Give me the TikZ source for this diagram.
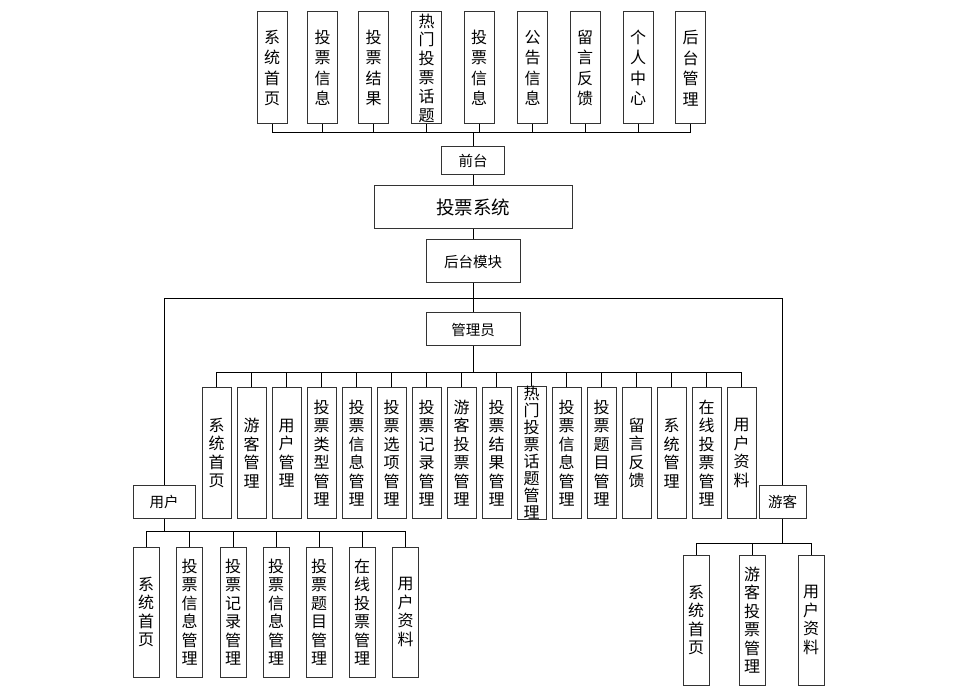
\documentclass[tikz,border=0pt]{standalone}
\usepackage{fontspec}
\setmainfont{Noto Sans CJK SC}

\begin{document}
\begin{tikzpicture}[x=1pt,y=-1pt,
    box/.style={draw=black!80,line width=1pt,inner sep=0pt,align=center},
    vtop/.style={box,minimum width=30pt,minimum height=112pt,font={\fontsize{16}{20.5}\selectfont}},
    vadm/.style={box,minimum width=29pt,minimum height=130pt,font={\fontsize{16}{18.5}\selectfont}},
    vsub/.style={box,minimum width=26pt,minimum height=130pt,font={\fontsize{16}{18.5}\selectfont}},
    hbox/.style={box,font={\fontsize{14.5}{16}\selectfont}},
    link/.style={draw=black,line width=0.8pt}]
    \useasboundingbox (0,0) rectangle (959,692);

    % front page modules
    \node[vtop] (q1) at (272,68) {系\\统\\首\\页};
    \node[vtop] (q2) at (322.5,68) {投\\票\\信\\息};
    \node[vtop] (q3) at (373.5,68) {投\\票\\结\\果};
    \node[vtop,font={\fontsize{16}{18.8}\selectfont}] (q4) at (426.5,68) {热\\门\\投\\票\\话\\题};
    \node[vtop] (q5) at (479,68) {投\\票\\信\\息};
    \node[vtop] (q6) at (532.5,68) {公\\告\\信\\息};
    \node[vtop] (q7) at (585,68) {留\\言\\反\\馈};
    \node[vtop] (q8) at (638,68) {个\\人\\中\\心};
    \node[vtop] (q9) at (690.5,68) {后\\台\\管\\理};

    \node[hbox,minimum width=63pt,minimum height=28pt] (qt) at (473,161) {前台};
    \node[box,minimum width=198pt,minimum height=43pt,font={\fontsize{18.5}{20}\selectfont}] (sys) at (473,207.5) {投票系统};
    \node[hbox,minimum width=94pt,minimum height=43pt] (hm) at (473,261.5) {后台模块};
    \node[hbox,minimum width=94pt,minimum height=33pt] (gly) at (473,329.5) {管理员};
    \node[hbox,minimum width=62pt,minimum height=32pt] (yh) at (164,502) {用户};
    \node[hbox,minimum width=47pt,minimum height=32pt] (yk) at (782.5,502) {游客};

    % admin modules
    \node[vadm] (a1) at (216.5,453) {系\\统\\首\\页};
    \node[vadm] (a2) at (251.5,453) {游\\客\\管\\理};
    \node[vadm] (a3) at (286.5,453) {用\\户\\管\\理};
    \node[vadm] (a4) at (321.5,453) {投\\票\\类\\型\\管\\理};
    \node[vadm] (a5) at (356.5,453) {投\\票\\信\\息\\管\\理};
    \node[vadm] (a6) at (391.5,453) {投\\票\\选\\项\\管\\理};
    \node[vadm] (a7) at (426.5,453) {投\\票\\记\\录\\管\\理};
    \node[vadm] (a8) at (461.5,453) {游\\客\\投\\票\\管\\理};
    \node[vadm] (a9) at (496.5,453) {投\\票\\结\\果\\管\\理};
    \node[vadm,font={\fontsize{16}{17}\selectfont}] (a10) at (531.5,453) {热\\门\\投\\票\\话\\题\\管\\理};
    \node[vadm] (a11) at (566.5,453) {投\\票\\信\\息\\管\\理};
    \node[vadm] (a12) at (601.5,453) {投\\票\\题\\目\\管\\理};
    \node[vadm] (a13) at (636.5,453) {留\\言\\反\\馈};
    \node[vadm] (a14) at (671.5,453) {系\\统\\管\\理};
    \node[vadm] (a15) at (706.5,453) {在\\线\\投\\票\\管\\理};
    \node[vadm] (a16) at (741.5,453) {用\\户\\资\\料};

    % user modules
    \node[vsub] (u1) at (146,612) {系\\统\\首\\页};
    \node[vsub] (u2) at (189.5,612) {投\\票\\信\\息\\管\\理};
    \node[vsub] (u3) at (233,612) {投\\票\\记\\录\\管\\理};
    \node[vsub] (u4) at (276,612) {投\\票\\信\\息\\管\\理};
    \node[vsub] (u5) at (319,612) {投\\票\\题\\目\\管\\理};
    \node[vsub] (u6) at (362,612) {在\\线\\投\\票\\管\\理};
    \node[vsub] (u7) at (405.5,612) {用\\户\\资\\料};

    % visitor modules
    \node[vsub] (v1) at (696,620) {系\\统\\首\\页};
    \node[vsub] (v2) at (752,620) {游\\客\\投\\票\\管\\理};
    \node[vsub] (v3) at (811,620) {用\\户\\资\\料};

    \coordinate (qbus) at (473,132);
    \coordinate (bbus) at (473,298);
    \coordinate (abus) at (473,372);
    \coordinate (ubus) at (164,531);
    \coordinate (vbus) at (782.5,543);

    % connectors
    \draw[link] (qt.north) -- (qbus);
    \draw[link] (q1.south) -- (q1.south |- qbus) -- (q9.south |- qbus) -- (q9.south);
    \draw[link] (q2.south) -- (q2.south |- qbus) (q3.south) -- (q3.south |- qbus)
        (q4.south) -- (q4.south |- qbus) (q5.south) -- (q5.south |- qbus)
        (q6.south) -- (q6.south |- qbus) (q7.south) -- (q7.south |- qbus)
        (q8.south) -- (q8.south |- qbus);
    \draw[link] (qt.south) -- (sys.north);
    \draw[link] (sys.south) -- (hm.north);
    \draw[link] (hm.south) -- (gly.north);
    \draw[link] (yh.north) -- (yh.north |- bbus) -- (yk.north |- bbus) -- (yk.north);

    \draw[link] (gly.south) -- (abus);
    \draw[link] (a1.north) -- (a1.north |- abus) -- (a16.north |- abus) -- (a16.north);
    \draw[link] (a2.north) -- (a2.north |- abus) (a3.north) -- (a3.north |- abus)
        (a4.north) -- (a4.north |- abus) (a5.north) -- (a5.north |- abus)
        (a6.north) -- (a6.north |- abus) (a7.north) -- (a7.north |- abus)
        (a8.north) -- (a8.north |- abus) (a9.north) -- (a9.north |- abus)
        (a10.north) -- (a10.north |- abus) (a11.north) -- (a11.north |- abus)
        (a12.north) -- (a12.north |- abus) (a13.north) -- (a13.north |- abus)
        (a14.north) -- (a14.north |- abus) (a15.north) -- (a15.north |- abus);

    \draw[link] (yh.south) -- (ubus);
    \draw[link] (u1.north) -- (u1.north |- ubus) -- (u7.north |- ubus) -- (u7.north);
    \draw[link] (u2.north) -- (u2.north |- ubus) (u3.north) -- (u3.north |- ubus)
        (u4.north) -- (u4.north |- ubus) (u5.north) -- (u5.north |- ubus)
        (u6.north) -- (u6.north |- ubus);

    \draw[link] (yk.south) -- (vbus);
    \draw[link] (v1.north) -- (v1.north |- vbus) -- (v3.north |- vbus) -- (v3.north);
    \draw[link] (v2.north) -- (v2.north |- vbus);
\end{tikzpicture}
\end{document}
